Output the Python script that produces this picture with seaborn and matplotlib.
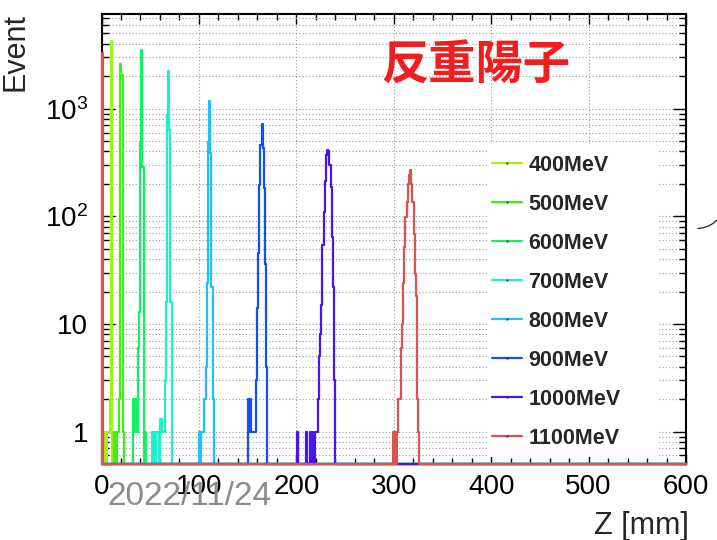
import numpy as np
import pandas as pd
import matplotlib
matplotlib.use("Agg")
import matplotlib.pyplot as plt
from matplotlib.lines import Line2D
from matplotlib.patches import Rectangle
from matplotlib.font_manager import FontProperties
from matplotlib.ticker import FixedLocator, FixedFormatter, NullFormatter, MultipleLocator
import seaborn as sns

# ---------------------------------------------------------------- data
energies = ["400MeV", "500MeV", "600MeV", "700MeV",
            "800MeV", "900MeV", "1000MeV", "1100MeV"]
colors = ["#a0f01c", "#3ef014", "#14f064", "#1ef0c8",
          "#1ec0f5", "#1250f5", "#4a14f0", "#d9534f"]

# histogram binning along Z [mm]
z_lo, z_hi, n_bins = 0.0, 600.0, 500

# index of the first filled bin of each energy, then the bin contents
first_bin = [1, 11, 27, 43, 83, 125, 167, 249]
counts_400 = [1, 0, 1, 0, 1, 1, 2, 4260]
counts_500 = [1, 0, 1, 1, 2, 2600, 2040, 1]
counts_600 = [2, 1, 2, 1, 6, 13, 475, 3470, 287, 0, 1]
counts_700 = [1, 0, 1, 0, 1, 1, 0, 1.3, 1.3, 1, 1, 3, 16, 870, 2240, 630, 16]
counts_800 = [1, 0, 1, 1, 1, 2, 4, 24, 490, 1170, 385, 22, 2]
counts_900 = [2, 1, 2, 1, 1, 1, 1, 3, 14, 46, 194, 460, 720, 430, 183, 36, 4]
counts_1000 = [1, 0, 0, 0, 0, 0, 0, 0, 1, 0, 0, 1, 0, 1, 0, 0,
               1, 1, 2, 5, 8, 15, 54, 110, 215, 370, 410, 400, 300, 187, 64, 22, 3]
counts_1100 = [1, 0, 1, 0, 1, 2, 2, 6, 10, 24, 52, 98, 135, 200, 240, 268,
               200, 135, 69, 29, 18, 2, 1]
first_bin_content_1100 = 3300   # events in the bin at Z = 0

all_counts = [counts_400, counts_500, counts_600, counts_700,
              counts_800, counts_900, counts_1000, counts_1100]

y_floor, y_top = 0.5, 7570

# ---------------------------------------------------------------- table
edges = np.linspace(z_lo, z_hi, n_bins + 1)
centers = 0.5 * (edges[:-1] + edges[1:])
frames = []
for label, start, vals in zip(energies, first_bin, all_counts):
    h = np.zeros(n_bins)
    h[start:start + len(vals)] = vals
    if label == "1100MeV":
        h[0] = first_bin_content_1100
    # empty bins sit on the bottom of the log frame
    frames.append(pd.DataFrame({"z": centers,
                                "events": np.maximum(h, y_floor),
                                "energy": label}))
df = pd.concat(frames, ignore_index=True)

# ---------------------------------------------------------------- style
sns.set_theme(style="ticks")
plt.rcParams["font.family"] = ["Liberation Sans", "DejaVu Sans"]
plt.rcParams["mathtext.fontset"] = "custom"
plt.rcParams["mathtext.rm"] = "Liberation Sans"
plt.rcParams["mathtext.it"] = "Liberation Sans:italic"

W, H = 717, 540
fig = plt.figure(figsize=(W / 100, H / 100), dpi=100)
fig.patch.set_facecolor("white")
ax = fig.add_axes([101.5 / W, 1 - 464 / H, 584.5 / W, 450 / H])
ax.set_yscale("log")
ax.set_axisbelow(True)

for label, col in zip(energies, colors):
    sns.histplot(data=df[df["energy"] == label], x="z", weights="events",
                 bins=list(edges), element="step", fill=False, color=col,
                 linewidth=1.6, ax=ax)
    line = ax.lines[-1]
    xd, yd = line.get_data()
    line.set_data(np.r_[xd[0], xd], np.r_[y_floor, yd])
    line.set_zorder(3)
    line.set_clip_on(False)

ax.set_xlim(z_lo, z_hi)
ax.set_ylim(y_floor, y_top)
ax.set_xlabel("")
ax.set_ylabel("")

# ticks: ROOT-like, inside on all four sides
ax.xaxis.set_major_locator(MultipleLocator(100))
ax.xaxis.set_minor_locator(MultipleLocator(20))
ax.yaxis.set_major_locator(FixedLocator([1, 10, 100, 1000]))
ax.yaxis.set_major_formatter(FixedFormatter(["1", "10", "$10^{2}$", "$10^{3}$"]))
minor_y = [m * 10.0 ** d for d in range(-1, 4) for m in range(2, 10)]
ax.yaxis.set_minor_locator(FixedLocator([v for v in minor_y if y_floor <= v <= y_top]))
ax.yaxis.set_minor_formatter(NullFormatter())
ax.tick_params(which="both", direction="in", top=True, right=True,
               colors="black", labelsize=20, width=1.0)
ax.tick_params(axis="x", which="major", length=7, pad=7.5)
ax.tick_params(axis="x", which="minor", length=4)
ax.tick_params(axis="y", which="major", length=9.5, pad=9.5)
ax.tick_params(axis="y", which="minor", length=5)
for sp in ax.spines.values():
    sp.set_color("black")
    sp.set_linewidth(1.5)

grid_kw = dict(color="#9a9a9a", linestyle=(0, (1, 2)), linewidth=0.8)
ax.grid(axis="x", which="major", **grid_kw)
ax.grid(axis="y", which="both", **grid_kw)

# legend on a white panel
ax.add_patch(Rectangle((487 / W, 1 - 457 / H), 170 / W, 313 / H,
                       transform=fig.transFigure, facecolor="white",
                       edgecolor="none", zorder=1))
handles = [Line2D([], [], color=c, lw=1.6, marker="s", markersize=1.5,
                  markerfacecolor="#333333", markeredgecolor="none")
           for c in colors]
ax.legend(handles, energies, loc="upper left",
          bbox_to_anchor=(491.7 / W, 1 - 155 / H), bbox_transform=fig.transFigure,
          frameon=False, borderpad=0, borderaxespad=0, handlelength=1.4,
          handletextpad=0.3, labelspacing=0.835, numpoints=1,
          prop=FontProperties(family="Liberation Sans", weight="bold", size=15.5))

# texts
fig.text(476 / W, 1 - 66 / H, "反重陽子", color="#f01e1e", fontsize=34,
         fontweight="bold", family=["Noto Sans CJK JP", "DejaVu Sans"],
         ha="center", va="center")
fig.text(16 / W, 1 - 13 / H, "Event", rotation=90, ha="center", va="top",
         fontsize=22)
fig.text(689 / W, 1 - 534 / H, "Z [mm]", ha="right", va="baseline", fontsize=22)
fig.text(107 / W, 1 - 505 / H, "2022/11/24", color="#8c8c8c", fontsize=24,
         family=["Liberation Sans", "DejaVu Sans"],
         ha="left", va="baseline")

# small arc at the right margin
arc_x = np.array([698, 703, 708, 713, 717]) / W
arc_y = 1 - np.array([228.5, 227.8, 226.3, 223.5, 220]) / H
fig.add_artist(Line2D(arc_x, arc_y, color="#222222", lw=0.9,
                      transform=fig.transFigure))

fig.savefig("out.png", dpi=100)
